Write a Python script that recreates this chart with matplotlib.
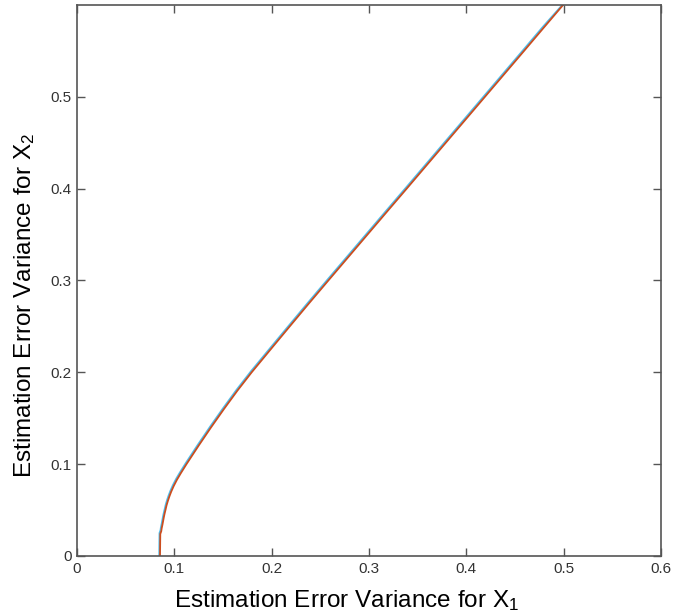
import matplotlib
matplotlib.use('Agg')
import matplotlib.pyplot as plt

plt.rcParams['font.family'] = ['Liberation Sans', 'DejaVu Sans']
plt.rcParams['mathtext.fontset'] = 'custom'
plt.rcParams['mathtext.rm'] = 'Liberation Sans'
plt.rcParams['mathtext.it'] = 'Liberation Sans:italic'

# error variance trade-off curves
y_red = [0, 0.024, 0.027, 0.030, 0.034, 0.038, 0.042, 0.046, 0.050, 0.055,
         0.060, 0.065, 0.070, 0.076, 0.083, 0.090, 0.100, 0.120, 0.140, 0.160,
         0.180, 0.200, 0.225, 0.250, 0.275, 0.300, 0.325, 0.350, 0.375, 0.400,
         0.425, 0.450, 0.475, 0.500, 0.525, 0.550, 0.575, 0.600]
x_red = [0.0853, 0.0856, 0.0866, 0.0870, 0.0878, 0.0885, 0.0892, 0.0900, 0.0909, 0.0920,
         0.0934, 0.0950, 0.0968, 0.0993, 0.1027, 0.1066, 0.1125, 0.1249, 0.1377, 0.1510,
         0.1648, 0.1795, 0.1990, 0.2186, 0.2383, 0.2583, 0.2784, 0.2985, 0.3186, 0.3388,
         0.3589, 0.3790, 0.3991, 0.4192, 0.4393, 0.4594, 0.4794, 0.4995]

y_blue = [0, 0.025, 0.028, 0.031, 0.035, 0.039, 0.043, 0.047, 0.051, 0.056,
          0.061, 0.066, 0.071, 0.077, 0.084, 0.091, 0.101, 0.121, 0.141, 0.161,
          0.181, 0.201, 0.226, 0.251, 0.276, 0.301, 0.326, 0.351, 0.376, 0.401,
          0.426, 0.451, 0.476, 0.501, 0.526, 0.551, 0.576, 0.600]
x_blue = [0.0845, 0.0848, 0.0858, 0.0862, 0.0870, 0.0877, 0.0884, 0.0892, 0.0901, 0.0912,
          0.0926, 0.0942, 0.0960, 0.0985, 0.1019, 0.1058, 0.1117, 0.1241, 0.1369, 0.1502,
          0.1640, 0.1787, 0.1982, 0.2178, 0.2375, 0.2575, 0.2776, 0.2977, 0.3178, 0.3380,
          0.3581, 0.3782, 0.3983, 0.4184, 0.4385, 0.4586, 0.4786, 0.4987]

xticks = [0, 0.1, 0.2, 0.3, 0.4, 0.5, 0.6]
yticks = [0, 0.1, 0.2, 0.3, 0.4, 0.5]

fig = plt.figure(figsize=(6.83, 6.13), dpi=100)
ax = fig.add_axes([0.1127, 0.093, 0.855, 0.899])

ax.plot(x_blue, y_blue, color=(0.30, 0.745, 0.933), linewidth=1.3)
ax.plot(x_red, y_red, color=(0.80, 0.30, 0.12), linewidth=1.3)

ax.set_xlim(0, 0.6)
ax.set_ylim(0, 0.6)
ax.set_xticks(xticks)
ax.set_xticklabels([f'{t:g}' for t in xticks])
ax.set_yticks(yticks)
ax.set_yticklabels([f'{t:g}' for t in yticks])

axcol = '#555555'
for s in ax.spines.values():
    s.set_color(axcol)
    s.set_linewidth(1.2)
ax.tick_params(direction='in', length=6, width=1, colors=axcol,
               top=True, right=True, labelsize=11, labelcolor='#333333', pad=4)

ax.set_xlabel(r'Estimation Error Variance for X$_1$', fontsize=17.5)
ax.set_ylabel(r'Estimation Error Variance for X$_2$', fontsize=17.5)
ax.xaxis.set_label_coords(0.462, -0.058)
ax.yaxis.set_label_coords(-0.069, 0.455)

fig.savefig('out.png', dpi=100)
